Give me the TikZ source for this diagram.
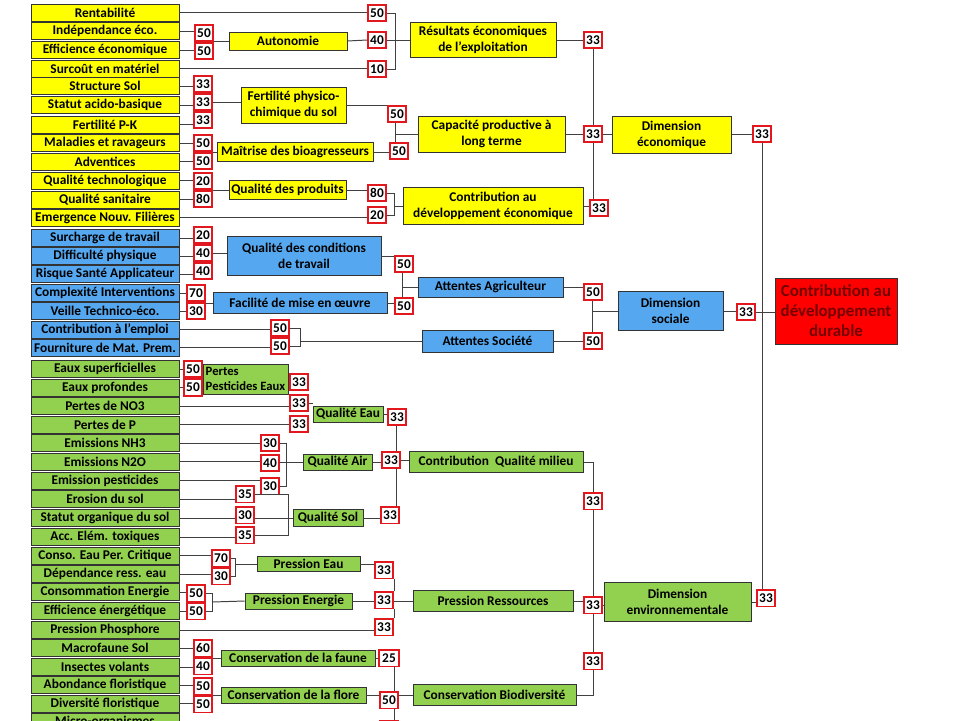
\documentclass[tikz,border=0pt]{standalone}
\usepackage{fontspec}
\setmainfont{Carlito}
\usetikzlibrary{positioning}
\definecolor{ecoyellow}{RGB}{255,255,0}
\definecolor{socblue}{RGB}{85,168,240}
\definecolor{envgreen}{RGB}{146,208,80}
\definecolor{wgtred}{RGB}{225,25,30}
\definecolor{linkgray}{RGB}{64,64,64}
\definecolor{cddred}{RGB}{255,0,0}
\definecolor{cddtext}{RGB}{115,0,0}

\begin{document}
\begin{tikzpicture}
    [   x = 0.25mm, y = -0.25mm
    ,   box/.style = {draw=black!80, line width=0.7pt, inner sep=1pt, align=center,
                      font=\fontsize{9.5}{11.5}\selectfont\bfseries}
    ,   leaf/.style = {box, minimum width=37mm, minimum height=4.25mm}
    ,   eco/.style = {fill=ecoyellow}
    ,   soc/.style = {fill=socblue}
    ,   env/.style = {fill=envgreen}
    ,   wgt/.style = {draw=wgtred, line width=1.3pt, fill=white, inner sep=0pt,
                      minimum width=4.6mm, minimum height=4.2mm,
                      font=\fontsize{9.5}{11}\selectfont\bfseries}
    ,   link/.style = {draw=linkgray, line width=0.7pt}
    ]
    \path[use as bounding box, fill=white] (0,0) rectangle (960,720);

    % economic leaves
    \node[leaf, eco] (e1) at (105,12.5) {Rentabilité};
    \node[leaf, eco] (e2) at (105,31) {Indépendance éco.};
    \node[leaf, eco] (e3) at (105,50) {Efficience économique};
    \node[leaf, eco] (e4) at (105,68.5) {Surcoût en matériel};
    \node[leaf, eco] (e5) at (105,86) {Structure Sol};
    \node[leaf, eco] (e6) at (105,105) {Statut acido-basique};
    \node[leaf, eco] (e7) at (105,124.5) {Fertilité P-K};
    \node[leaf, eco] (e8) at (105,143) {Maladies et ravageurs};
    \node[leaf, eco] (e9) at (105,161.5) {Adventices};
    \node[leaf, eco] (e10) at (105,180.5) {Qualité technologique};
    \node[leaf, eco] (e11) at (105,199.5) {Qualité sanitaire};
    \node[leaf, eco] (e12) at (105,217.5) {Emergence Nouv. Filières};

    % social leaves
    \node[leaf, soc] (s1) at (105,238) {Surcharge de travail};
    \node[leaf, soc] (s2) at (105,256) {Difficulté physique};
    \node[leaf, soc] (s3) at (105,274) {Risque Santé Applicateur};
    \node[leaf, soc] (s4) at (105,293) {Complexité Interventions};
    \node[leaf, soc] (s5) at (105,311) {Veille Technico-éco.};
    \node[leaf, soc] (s6) at (105,329.5) {Contribution à l’emploi};
    \node[leaf, soc] (s7) at (105,347.5) {Fourniture de Mat. Prem.};

    % environmental leaves
    \node[leaf, env] (v1) at (105,369) {Eaux superficielles};
    \node[leaf, env] (v2) at (105,387.5) {Eaux profondes};
    \node[leaf, env] (v3) at (105,406) {Pertes de NO3};
    \node[leaf, env] (v4) at (105,424.5) {Pertes de P};
    \node[leaf, env] (v5) at (105,443) {Emissions NH3};
    \node[leaf, env] (v6) at (105,461.5) {Emissions N2O};
    \node[leaf, env] (v7) at (105,480.5) {Emission pesticides};
    \node[leaf, env] (v8) at (105,499) {Erosion du sol};
    \node[leaf, env] (v9) at (105,518) {Statut organique du sol};
    \node[leaf, env] (v10) at (105,537) {Acc. Elém. toxiques};
    \node[leaf, env] (v11) at (105,555.5) {Conso. Eau Per. Critique};
    \node[leaf, env] (v12) at (105,574) {Dépendance ress. eau};
    \node[leaf, env] (v13) at (105,592) {Consommation Energie};
    \node[leaf, env] (v14) at (105,611) {Efficience énergétique};
    \node[leaf, env] (v15) at (105,630) {Pression Phosphore};
    \node[leaf, env] (v16) at (105,648) {Macrofaune Sol};
    \node[leaf, env] (v17) at (105,667) {Insectes volants};
    \node[leaf, env] (v18) at (105,685) {Abondance floristique};
    \node[leaf, env] (v19) at (105,703.5) {Diversité floristique};
    \node[leaf, env] (v20) at (105,722) {Micro-organismes};

    % economic dimension
    \node[wgt] (we1) at (377,13) {50};
    \node[wgt] (we2) at (204,33) {50};
    \node[wgt] (we3) at (204,51) {50};
    \node[box, eco, minimum width=29.5mm, minimum height=4.5mm] (aut) at (288,41) {Autonomie};
    \node[wgt] (we4) at (377,40) {40};
    \node[wgt] (we5) at (377,69) {10};
    \coordinate (jres) at (395,40);
    \node[box, eco, minimum width=36.5mm, minimum height=8.75mm] (res) at (483,40)
        {Résultats économiques\\de l’exploitation};
    \node[wgt] (we6) at (593,40) {33};
    \node[wgt] (we7) at (203,84) {33};
    \node[wgt] (we8) at (203,102) {33};
    \node[wgt] (we9) at (203,120) {33};
    \node[box, eco, minimum width=26.25mm, minimum height=9mm] (fert) at (293.5,105)
        {Fertilité physico-\\chimique du sol};
    \node[wgt] (we10) at (397,114) {50};
    \node[wgt] (we11) at (203,143) {50};
    \node[wgt] (we12) at (203,161) {50};
    \node[box, eco, minimum width=39mm, minimum height=4.75mm] (bio) at (295,152)
        {Maîtrise des bioagresseurs};
    \node[wgt] (we13) at (399,151) {50};
    \coordinate (jcap) at (395,134);
    \node[box, eco, minimum width=36.75mm, minimum height=9mm] (cap) at (491.5,134)
        {Capacité productive à\\long terme};
    \node[wgt] (we14) at (593,134) {33};
    \node[wgt] (we15) at (203,181) {20};
    \node[wgt] (we16) at (203,199) {80};
    \node[box, eco, minimum width=29.25mm, minimum height=4.75mm] (prod) at (287.5,190)
        {Qualité des produits};
    \node[wgt] (we17) at (377,193) {80};
    \node[wgt] (we18) at (377,215) {20};
    \coordinate (jdev) at (394,206);
    \node[box, eco, minimum width=45mm, minimum height=9.25mm] (dev) at (493,206)
        {Contribution au\\développement économique};
    \node[wgt] (we19) at (599,208) {33};
    \node[box, eco, minimum width=29.75mm, minimum height=9.25mm] (deco) at (671.5,135)
        {Dimension\\économique};
    \node[wgt] (we20) at (762,134) {33};

    % social dimension
    \node[wgt] (ws1) at (203,235) {20};
    \node[wgt] (ws2) at (203,253) {40};
    \node[wgt] (ws3) at (203,271) {40};
    \node[box, soc, minimum width=38.5mm, minimum height=9.75mm] (qct) at (304,256)
        {Qualité des conditions\\de travail};
    \node[wgt] (ws4) at (404,264) {50};
    \node[wgt] (ws5) at (196,293) {70};
    \node[wgt] (ws6) at (196,311) {30};
    \node[box, soc, minimum width=43.5mm, minimum height=5.25mm] (fac) at (300,303)
        {Facilité de mise en œuvre};
    \node[wgt] (ws7) at (404,306) {50};
    \coordinate (jagr) at (402,287);
    \node[box, soc, minimum width=36.25mm, minimum height=5mm] (agr) at (490.5,287)
        {Attentes Agriculteur};
    \node[wgt] (ws8) at (593,292) {50};
    \node[wgt] (ws9) at (280,328) {50};
    \node[wgt] (ws10) at (280,346) {50};
    \coordinate (jsoc) at (300,341);
    \node[box, soc, minimum width=32.75mm, minimum height=5.5mm] (soc) at (487.5,341)
        {Attentes Société};
    \node[wgt] (ws11) at (593,341) {50};
    \coordinate (jdsoc) at (592,311);
    \node[box, soc, minimum width=26.25mm, minimum height=9.75mm] (dsoc) at (670.5,311)
        {Dimension\\sociale};
    \node[wgt] (ws12) at (746,312) {33};
    \node[box, fill=cddred, text=cddtext, minimum width=30.5mm, minimum height=16.5mm,
          font=\fontsize{12}{14.2}\selectfont\bfseries] (cdd) at (836,311)
        {Contribution au\\développement\\durable};

    % environmental dimension
    \node[wgt] (wv1) at (193,369) {50};
    \node[wgt] (wv2) at (193,387.5) {50};
    \node[box, env, align=left, minimum width=21.25mm, minimum height=7.5mm,
          font=\fontsize{9}{11}\selectfont\bfseries] (ppe) at (245.5,379)
        {Pertes\\Pesticides Eaux};
    \node[wgt] (wv3) at (299,382) {33};
    \node[wgt] (wv4) at (299,403) {33};
    \node[wgt] (wv5) at (299,424) {33};
    \node[box, env, minimum width=17.5mm, minimum height=4mm] (qeau) at (348,414) {Qualité Eau};
    \node[wgt] (wv6) at (397,417) {33};
    \node[wgt] (wv7) at (270,443) {30};
    \node[wgt] (wv8) at (270,463) {40};
    \node[wgt] (wv9) at (270,486) {30};
    \coordinate (jair) at (286,462);
    \node[box, env, minimum width=17.25mm, minimum height=4mm] (qair) at (337.5,462) {Qualité Air};
    \node[wgt] (wv10) at (391,460) {33};
    \node[wgt] (wv11) at (245,494) {35};
    \node[wgt] (wv12) at (245,515) {30};
    \node[wgt] (wv13) at (245,535) {35};
    \coordinate (jsol) at (288,518);
    \node[box, env, minimum width=17.5mm, minimum height=4.25mm] (qsol) at (328,518) {Qualité Sol};
    \node[wgt] (wv14) at (390,515) {33};
    \coordinate (jqm) at (396,462);
    \node[box, env, minimum width=43.5mm, minimum height=5.25mm] (qm) at (496,462)
        {Contribution\ \ Qualité milieu};
    \node[wgt] (wv15) at (593,501) {33};
    \node[wgt] (wv16) at (221,558) {70};
    \node[wgt] (wv17) at (221,576) {30};
    \coordinate (jpeau) at (235,564);
    \node[box, env, minimum width=25.75mm, minimum height=3.75mm] (peau) at (308.5,564) {Pression Eau};
    \node[wgt] (wv18) at (384,570) {33};
    \node[wgt] (wv19) at (196,593) {50};
    \node[wgt] (wv20) at (196,611) {50};
    \coordinate (jpen) at (212,602);
    \node[box, env, minimum width=26.75mm, minimum height=4mm] (pen) at (298.5,601) {Pression Energie};
    \node[wgt] (wv21) at (384,600) {33};
    \node[wgt] (wv22) at (384,627) {33};
    \coordinate (jpr) at (394,601);
    \node[box, env, minimum width=40mm, minimum height=5.25mm] (pr) at (493,601) {Pression Ressources};
    \node[wgt] (wv23) at (593,605) {33};
    \node[wgt] (wv24) at (203,648) {60};
    \node[wgt] (wv25) at (203,666) {40};
    \node[box, env, minimum width=38.5mm, minimum height=4mm] (faune) at (298,658)
        {Conservation de la faune};
    \node[wgt, minimum width=5.2mm] (wv26) at (389,658) {25};
    \node[wgt] (wv27) at (203,686) {50};
    \node[wgt] (wv28) at (203,704) {50};
    \node[box, env, minimum width=36.25mm, minimum height=4mm] (flore) at (293.5,695)
        {Conservation de la flore};
    \node[wgt] (wv29) at (389,700) {50};
    \node[wgt] (wv30) at (389,729) {};
    \coordinate (jbio) at (394,695);
    \node[box, env, minimum width=40.75mm, minimum height=5.25mm] (cbio) at (494.5,695)
        {Conservation Biodiversité};
    \node[wgt] (wv31) at (593,661) {33};
    \node[box, env, minimum width=36.75mm, minimum height=9.75mm] (denv) at (677.5,602)
        {Dimension\\environnementale};
    \node[wgt] (wv32) at (766,598) {33};

    % economic links
    \draw[link] (e1.east) -- (e1.east -| we1.west);
    \draw[link] (e2.east) -- (e2.east -| we2.west);
    \draw[link] (e3.east) -- (e3.east -| we3.west);
    \draw[link] (we2.east |- aut.west) -- (aut.west);
    \draw[link] (aut.east) -- (we4.west);
    \draw[link] (e4.east) -- (e4.east -| we5.west);
    \draw[link] (we1.east) -| (jres);
    \draw[link] (we5.east) -| (jres);
    \draw[link] (we4.east) -- (res.west);
    \draw[link] (res.east) -- (res.east -| we6.west);
    \draw[link] (e5.east) -- (e5.east -| we7.west);
    \draw[link] (e6.east) -- (e6.east -| we8.west);
    \draw[link] (e7.east) -- (e7.east -| we9.west);
    \draw[link] (we8.east) -- (we8.east -| fert.west);
    \draw[link] (fert.east) -- (fert.east -| we10.west);
    \draw[link] (e8.east) -- (e8.east -| we11.west);
    \draw[link] (e9.east) -- (e9.east -| we12.west);
    \draw[link] (we11.east |- bio.west) -- (bio.west);
    \draw[link] (bio.east) -- (bio.east -| we13.west);
    \draw[link] (we10.south -| jcap) -- (we13.north -| jcap);
    \draw[link] (jcap) -- (cap.west);
    \draw[link] (cap.east) -- (cap.east -| we14.west);
    \draw[link] (e10.east) -- (e10.east -| we15.west);
    \draw[link] (e11.east) -- (e11.east -| we16.west);
    \draw[link] (we15.east |- prod.west) -- (prod.west);
    \draw[link] (prod.east) -- (prod.east -| we17.west);
    \draw[link] (e12.east) -- (e12.east -| we18.west);
    \draw[link] (we17.east) -| (jdev);
    \draw[link] (we18.east) -| (jdev);
    \draw[link] (jdev) -- (dev.west);
    \draw[link] (dev.east) -- (dev.east -| we19.west);
    \draw[link] (we6.south) -- (we14.north);
    \draw[link] (we14.south) -- (we14.south |- we19.north);
    \draw[link] (we14.east) -- (we14.east -| deco.west);
    \draw[link] (deco.east |- we20.west) -- (we20.west);

    % social links
    \draw[link] (s1.east) -- (s1.east -| ws1.west);
    \draw[link] (s2.east) -- (s2.east -| ws2.west);
    \draw[link] (s3.east) -- (s3.east -| ws3.west);
    \draw[link] (ws2.east) -- (ws2.east -| qct.west);
    \draw[link] (qct.east) -- (qct.east -| ws4.west);
    \draw[link] (s4.east) -- (s4.east -| ws5.west);
    \draw[link] (s5.east) -- (s5.east -| ws6.west);
    \draw[link] (ws5.east |- fac.west) -- (fac.west);
    \draw[link] (fac.east) -- (fac.east -| ws7.west);
    \draw[link] (ws4.south -| jagr) -- (ws7.north -| jagr);
    \draw[link] (jagr) -- (agr.west);
    \draw[link] (agr.east) -- (agr.east -| ws8.west);
    \draw[link] (s6.east) -- (s6.east -| ws9.west);
    \draw[link] (s7.east) -- (s7.east -| ws10.west);
    \draw[link] (ws9.east) -| (jsoc);
    \draw[link] (ws10.east) -| (jsoc);
    \draw[link] (jsoc) -- (soc.west);
    \draw[link] (soc.east) -- (ws11.west);
    \draw[link] (ws8.south -| jdsoc) -- (ws11.north -| jdsoc);
    \draw[link] (jdsoc) -- (dsoc.west);
    \draw[link] (dsoc.east) -- (dsoc.east -| ws12.west);
    \draw[link] (ws12.east) -- (ws12.east -| cdd.west);

    % environmental links
    \draw[link] (v1.east) -- (v1.east -| wv1.west);
    \draw[link] (v2.east) -- (v2.east -| wv2.west);
    \draw[link] (v3.east) -- (v3.east -| wv4.west);
    \draw[link] (v4.east) -- (v4.east -| wv5.west);
    \draw[link] (wv4.east) -- (wv4.east -| qeau.west);
    \draw[link] (qeau.east) -- (qeau.east -| wv6.west);
    \draw[link] (v5.east) -- (v5.east -| wv7.west);
    \draw[link] (v6.east) -- (v6.east -| wv8.west);
    \draw[link] (v7.east) -- (v7.east -| wv9.west);
    \draw[link] (wv7.east) -| (jair);
    \draw[link] (wv9.east) -| (jair);
    \draw[link] (wv8.east |- qair.west) -- (qair.west);
    \draw[link] (qair.east) -- (qair.east -| wv10.west);
    \draw[link] (v8.east) -- (v8.east -| wv11.west);
    \draw[link] (v9.east) -- (v9.east -| wv12.west);
    \draw[link] (v10.east) -- (v10.east -| wv13.west);
    \draw[link] (wv11.east) -| (jsol);
    \draw[link] (wv13.east) -| (jsol);
    \draw[link] (wv12.east |- qsol.west) -- (qsol.west);
    \draw[link] (qsol.east) -- (qsol.east -| wv14.west);
    \draw[link] (wv6.south -| jqm) -- (wv10.north -| jqm);
    \draw[link] (wv10.south -| jqm) -- (wv14.north -| jqm);
    \draw[link] (wv10.east) -- (wv10.east -| qm.west);
    \draw[link] (qm.east) -| (wv15.north);
    \draw[link] (wv15.south) -- (wv23.north);
    \draw[link] (v11.east) -- (v11.east -| wv16.west);
    \draw[link] (v12.east) -- (v12.east -| wv17.west);
    \draw[link] (wv16.east) -| (jpeau);
    \draw[link] (wv17.east) -| (jpeau);
    \draw[link] (jpeau) -- (peau.west);
    \draw[link] (peau.east) -- (peau.east -| wv18.west);
    \draw[link] (v13.east) -- (v13.east -| wv19.west);
    \draw[link] (v14.east) -- (v14.east -| wv20.west);
    \draw[link] (wv19.east) -| (jpen);
    \draw[link] (wv20.east) -| (jpen);
    \draw[link] (jpen) -- (pen.west);
    \draw[link] (pen.east) -- (pen.east -| wv21.west);
    \draw[link] (v15.east) -- (v15.east -| wv22.west);
    \draw[link] (wv18.south -| jpr) -- (wv21.north -| jpr);
    \draw[link] (wv21.south -| jpr) -- (wv22.north -| jpr);
    \draw[link] (wv21.east |- pr.west) -- (pr.west);
    \draw[link] (pr.east) -- (pr.east -| wv23.west);
    \draw[link] (v16.east) -- (v16.east -| wv24.west);
    \draw[link] (v17.east) -- (v17.east -| wv25.west);
    \draw[link] (wv24.east |- faune.west) -- (faune.west);
    \draw[link] (faune.east) -- (faune.east -| wv26.west);
    \draw[link] (v18.east) -- (v18.east -| wv27.west);
    \draw[link] (v19.east) -- (v19.east -| wv28.west);
    \draw[link] (wv27.east |- flore.west) -- (flore.west);
    \draw[link] (flore.east) -- (flore.east -| wv29.west);
    \draw[link] (wv26.south -| jbio) -- (wv29.north -| jbio);
    \draw[link] (wv29.south -| jbio) -- (wv30.north -| jbio);
    \draw[link] (wv29.east |- cbio.west) -- (cbio.west);
    \draw[link] (cbio.east) -| (wv31.south);
    \draw[link] (wv31.north) -- (wv23.south);
    \draw[link] (wv23.east) -- (wv23.east -| denv.west);
    \draw[link] (denv.east) -- (denv.east -| wv32.west);

    % main trunk
    \draw[link] (we20.south) -- (we20.south |- wv32.north);
\end{tikzpicture}
\end{document}
